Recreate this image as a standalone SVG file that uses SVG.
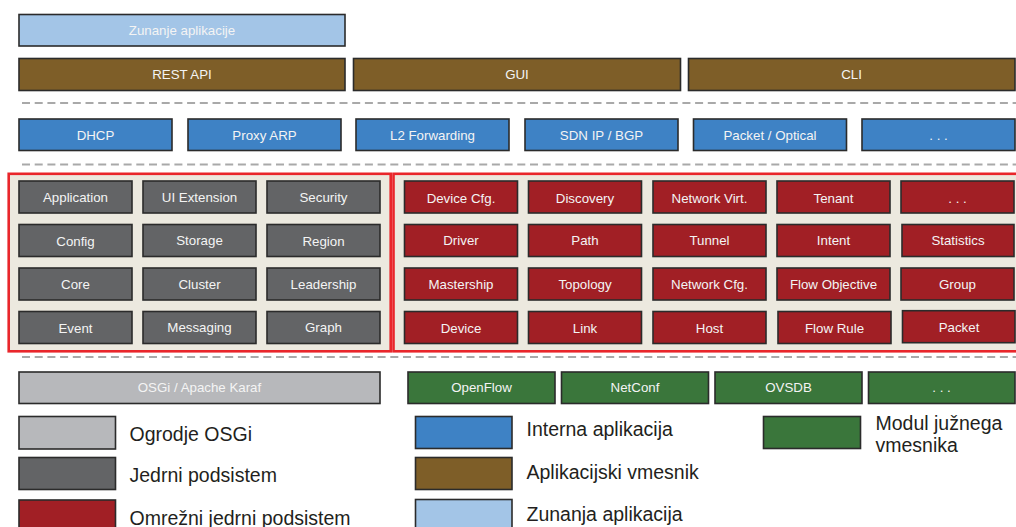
<svg xmlns="http://www.w3.org/2000/svg" width="1016" height="527" viewBox="0 0 1016 527">
  <style>
    .box { stroke: #2b2b2b; stroke-width: 1.6; }
    .ext { fill: #a3c5e7; }
    .mw { fill: #7e5e28; }
    .app { fill: #3e82c5; }
    .core { fill: #636466; }
    .net { fill: #a11f25; }
    .osgi { fill: #b7b8bb; }
    .sb { fill: #3a763b; }
    .lbl { font-family: "Liberation Sans", Arial, sans-serif; font-size: 13.3px; fill: #f4f4f4; text-anchor: middle; }
    .leg { font-family: "Liberation Sans", Arial, sans-serif; font-size: 19.5px; fill: #231f20; }
    .sep { stroke: #a9a9a9; stroke-width: 2; stroke-dasharray: 8 4.7; fill: none; }
    .frame { fill: #ece9df; stroke: #e9262b; stroke-width: 2.6; }
  </style>

  <!-- layer separators -->
  <g id="separators">
    <line class="sep" x1="22" y1="103" x2="1016" y2="103"/>
    <line class="sep" x1="22" y1="164.5" x2="1016" y2="164.5"/>
    <line class="sep" x1="22" y1="357" x2="1016" y2="357"/>
  </g>

  <!-- external applications and northbound interfaces -->
  <g id="external-apps"><rect class="box ext" x="19" y="14.5" width="326" height="31.5"/><text class="lbl" x="182" y="34.5">Zunanje aplikacije</text></g>
  <g id="rest-api"><rect class="box mw" x="19" y="58.5" width="326" height="32"/><text class="lbl" x="182" y="79">REST API</text></g>
  <g id="gui"><rect class="box mw" x="353.5" y="58.5" width="327" height="32"/><text class="lbl" x="517" y="79">GUI</text></g>
  <g id="cli"><rect class="box mw" x="688.5" y="58.5" width="326.5" height="32"/><text class="lbl" x="851.5" y="79">CLI</text></g>

  <!-- internal applications -->
  <g id="dhcp"><rect class="box app" x="19" y="119" width="153" height="31.5"/><text class="lbl" x="95.5" y="139.5">DHCP</text></g>
  <g id="proxy-arp"><rect class="box app" x="188" y="119" width="153" height="31.5"/><text class="lbl" x="264.5" y="139.5">Proxy ARP</text></g>
  <g id="l2-forwarding"><rect class="box app" x="356" y="119" width="153" height="31.5"/><text class="lbl" x="432.5" y="139.5">L2 Forwarding</text></g>
  <g id="sdn-ip"><rect class="box app" x="525" y="119" width="153" height="31.5"/><text class="lbl" x="601.5" y="139.5">SDN IP / BGP</text></g>
  <g id="packet-optical"><rect class="box app" x="693.5" y="119" width="153" height="31.5"/><text class="lbl" x="770" y="139.5">Packet / Optical</text></g>
  <g id="apps-more"><rect class="box app" x="862" y="119" width="153" height="31.5"/><text class="lbl" x="938.5" y="139.5">. . .</text></g>

  <!-- core subsystem frames -->
  <g id="frames">
    <rect class="frame" x="8.7" y="173.8" width="382" height="177.5"/>
    <rect class="frame" x="393.5" y="173.8" width="630" height="177.5"/>
  </g>

  <!-- core subsystems -->
  <g id="application"><rect class="box core" x="19" y="181" width="113" height="32"/><text class="lbl" x="75.5" y="202">Application</text></g>
  <g id="ui-extension"><rect class="box core" x="143" y="181" width="113" height="32"/><text class="lbl" x="199.5" y="202">UI Extension</text></g>
  <g id="security"><rect class="box core" x="267" y="181" width="113" height="32"/><text class="lbl" x="323.5" y="202">Security</text></g>
  <g id="config"><rect class="box core" x="19" y="224.5" width="113" height="32"/><text class="lbl" x="75.5" y="245.7">Config</text></g>
  <g id="storage"><rect class="box core" x="143" y="224.5" width="113" height="32"/><text class="lbl" x="199.5" y="245">Storage</text></g>
  <g id="region"><rect class="box core" x="267" y="224.5" width="113" height="32"/><text class="lbl" x="323.5" y="245.7">Region</text></g>
  <g id="core"><rect class="box core" x="19" y="268" width="113" height="32"/><text class="lbl" x="75.5" y="289.3">Core</text></g>
  <g id="cluster"><rect class="box core" x="143" y="268" width="113" height="32"/><text class="lbl" x="199.5" y="289.3">Cluster</text></g>
  <g id="leadership"><rect class="box core" x="267" y="268" width="113" height="32"/><text class="lbl" x="323.5" y="289.3">Leadership</text></g>
  <g id="event"><rect class="box core" x="19" y="311.5" width="113" height="32"/><text class="lbl" x="75.5" y="332.7">Event</text></g>
  <g id="messaging"><rect class="box core" x="143" y="311.5" width="113" height="32"/><text class="lbl" x="199.5" y="331.7">Messaging</text></g>
  <g id="graph"><rect class="box core" x="267" y="311.5" width="113" height="32"/><text class="lbl" x="323.5" y="331.7">Graph</text></g>

  <!-- network core subsystems -->
  <g id="device-cfg"><rect class="box net" x="404.5" y="181" width="113" height="32"/><text class="lbl" x="461" y="202.5">Device Cfg.</text></g>
  <g id="discovery"><rect class="box net" x="528.5" y="181" width="113" height="32"/><text class="lbl" x="585" y="202.5">Discovery</text></g>
  <g id="network-virt"><rect class="box net" x="653" y="181" width="113" height="32"/><text class="lbl" x="709.5" y="202.5">Network Virt.</text></g>
  <g id="tenant"><rect class="box net" x="777" y="181" width="113" height="32"/><text class="lbl" x="833.5" y="202.5">Tenant</text></g>
  <g id="net-more"><rect class="box net" x="901" y="181" width="113" height="32"/><text class="lbl" x="957.5" y="202.5">. . .</text></g>
  <g id="driver"><rect class="box net" x="404.5" y="224.5" width="113" height="32"/><text class="lbl" x="461" y="245.3">Driver</text></g>
  <g id="path"><rect class="box net" x="528.5" y="224.5" width="113" height="32"/><text class="lbl" x="585" y="245.3">Path</text></g>
  <g id="tunnel"><rect class="box net" x="653" y="224.5" width="113" height="32"/><text class="lbl" x="709.5" y="245.3">Tunnel</text></g>
  <g id="intent"><rect class="box net" x="777" y="224.5" width="113" height="32"/><text class="lbl" x="833.5" y="245.3">Intent</text></g>
  <g id="statistics"><rect class="box net" x="902" y="224.5" width="112" height="32"/><text class="lbl" x="958" y="245.3">Statistics</text></g>
  <g id="mastership"><rect class="box net" x="404.5" y="268" width="113" height="32"/><text class="lbl" x="461" y="289.3">Mastership</text></g>
  <g id="topology"><rect class="box net" x="528.5" y="268" width="113" height="32"/><text class="lbl" x="585" y="289.3">Topology</text></g>
  <g id="network-cfg"><rect class="box net" x="653" y="268" width="113" height="32"/><text class="lbl" x="709.5" y="289.3">Network Cfg.</text></g>
  <g id="flow-objective"><rect class="box net" x="777" y="268" width="113" height="32"/><text class="lbl" x="833.5" y="289.3">Flow Objective</text></g>
  <g id="group"><rect class="box net" x="901" y="268" width="113" height="32"/><text class="lbl" x="957.5" y="289.3">Group</text></g>
  <g id="device"><rect class="box net" x="404.5" y="311.5" width="113" height="32"/><text class="lbl" x="461" y="332.7">Device</text></g>
  <g id="link"><rect class="box net" x="528.5" y="311.5" width="113" height="32"/><text class="lbl" x="585" y="332.7">Link</text></g>
  <g id="host"><rect class="box net" x="653" y="311.5" width="113" height="32"/><text class="lbl" x="709.5" y="332.7">Host</text></g>
  <g id="flow-rule"><rect class="box net" x="778" y="311.5" width="113" height="32"/><text class="lbl" x="834.5" y="332.7">Flow Rule</text></g>
  <g id="packet"><rect class="box net" x="902.5" y="310.7" width="112.5" height="32"/><text class="lbl" x="959" y="331.7">Packet</text></g>

  <!-- platform and southbound modules -->
  <g id="osgi-karaf"><rect class="box osgi" x="19" y="372" width="361" height="31.5"/><text class="lbl" x="199.5" y="392">OSGi / Apache Karaf</text></g>
  <g id="openflow"><rect class="box sb" x="408" y="372" width="147" height="31.5"/><text class="lbl" x="481.5" y="392">OpenFlow</text></g>
  <g id="netconf"><rect class="box sb" x="561.5" y="372" width="147" height="31.5"/><text class="lbl" x="635" y="392">NetConf</text></g>
  <g id="ovsdb"><rect class="box sb" x="715" y="372" width="147" height="31.5"/><text class="lbl" x="788.5" y="392">OVSDB</text></g>
  <g id="sb-more"><rect class="box sb" x="868.5" y="372" width="146.5" height="31.5"/><text class="lbl" x="941.5" y="392">. . .</text></g>

  <!-- legend -->
  <g id="legend">
    <rect class="box osgi" x="19" y="416.5" width="96.5" height="32.5"/>
    <text class="leg" x="129.5" y="440.7">Ogrodje OSGi</text>
    <rect class="box core" x="19" y="457.5" width="96.5" height="32"/>
    <text class="leg" x="129.5" y="481.7">Jedrni podsistem</text>
    <rect class="box net" x="19" y="500" width="96.5" height="33"/>
    <text class="leg" x="129.5" y="524.5">Omrežni jedrni podsistem</text>

    <rect class="box app" x="415.5" y="416.5" width="96.5" height="32"/>
    <text class="leg" x="526.5" y="436.2">Interna aplikacija</text>
    <rect class="box mw" x="415.5" y="457.5" width="96.5" height="32"/>
    <text class="leg" x="526.5" y="479.3">Aplikacijski vmesnik</text>
    <rect class="box ext" x="415.5" y="499.5" width="96.5" height="33"/>
    <text class="leg" x="526.5" y="520.7">Zunanja aplikacija</text>

    <rect class="box sb" x="763.5" y="416.5" width="97" height="32"/>
    <text class="leg" x="875.5" y="430">Modul južnega</text>
    <text class="leg" x="875.5" y="451.5">vmesnika</text>
  </g>
</svg>
